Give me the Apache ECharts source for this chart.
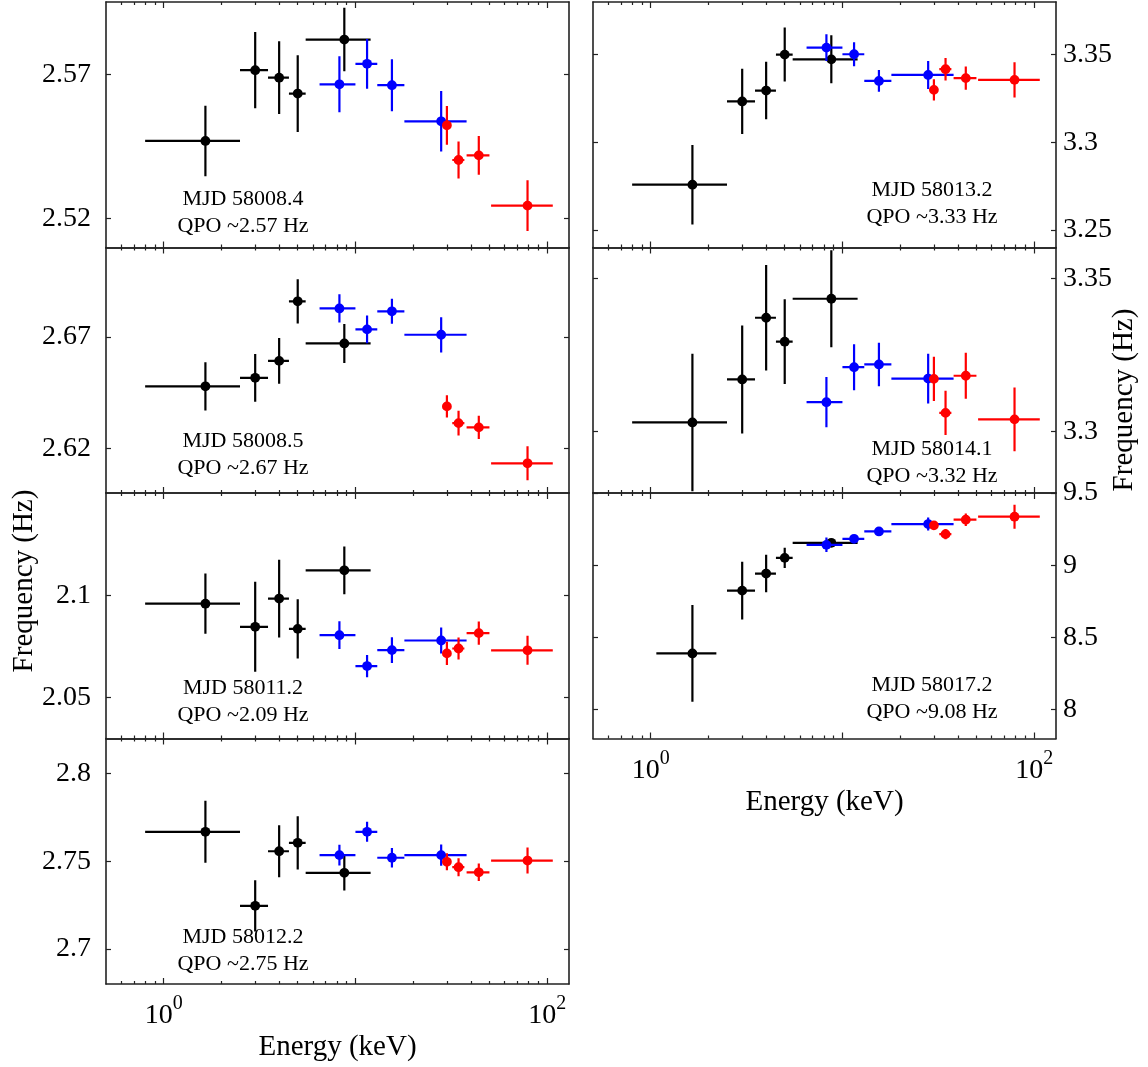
<!DOCTYPE html>
<html><head><meta charset="utf-8">
<script src="https://cdn.jsdelivr.net/npm/echarts/dist/echarts.min.js"></script>
<style>html,body{margin:0;padding:0;background:#fff}#c{width:1148px;height:1067px}</style>
</head><body><div id="c"></div>
<script>
// ---------- energy bins (keV) ----------
const blackE  = [1.65, 3.0, 4.0, 5.0, 8.75];
const blackLo = [0.8, 2.5, 3.5, 4.5, 5.5];
const blackHi = [2.5, 3.5, 4.5, 5.5, 12];
const black7Lo = [1.07, 2.5, 3.5, 4.5, 5.5];
const black7Hi = [2.2, 3.5, 4.5, 5.5, 12];
const blueE  = [8.25, 11.5, 15.5, 28];
const blueLo = [6.5, 10, 13, 18];
const blueHi = [10, 13, 18, 38];
const redE  = [30, 34.5, 44, 79];
const redLo = [28.5, 32, 38, 51];
const redHi = [31.5, 37, 50, 107];

// ---------- x tick values / labels ----------
const xMajor = [1, 10, 100];
const xMinor = [0.6, 0.7, 0.8, 0.9, 2, 3, 4, 5, 6, 7, 8, 9, 20, 30, 40, 50, 60, 70, 80, 90];
const xLabeled = [1, 100];

// ---------- MJD 58008.4 ----------
const f1Black = [2.5469, 2.5714, 2.5688, 2.5633, 2.5820];
const d1Black = [0.0122, 0.0132, 0.0126, 0.0133, 0.0110];
const f1Blue  = [2.5665, 2.5736, 2.5662, 2.5537];
const d1Blue  = [0.0097, 0.0086, 0.0090, 0.0105];
const f1Red   = [2.5523, 2.5403, 2.5419, 2.5245];
const d1Red   = [0.0067, 0.0064, 0.0067, 0.0088];
const y1Ticks = [2.52, 2.57];
// ---------- MJD 58008.5 ----------
const f2Black = [2.6478, 2.6516, 2.6592, 2.6859, 2.6670];
const d2Black = [0.0108, 0.0107, 0.0103, 0.0099, 0.0087];
const f2Blue  = [2.6827, 2.6733, 2.6814, 2.6709];
const d2Blue  = [0.0063, 0.0062, 0.0056, 0.0079];
const f2Red   = [2.6388, 2.6313, 2.6294, 2.6133];
const d2Red   = [0.0050, 0.0055, 0.0052, 0.0076];
const y2Ticks = [2.62, 2.67];
// ---------- MJD 58011.2 ----------
const f3Black = [2.0959, 2.0846, 2.0984, 2.0836, 2.1122];
const d3Black = [0.0147, 0.0220, 0.0190, 0.0145, 0.0117];
const f3Blue  = [2.0805, 2.0654, 2.0732, 2.0779];
const d3Blue  = [0.0068, 0.0054, 0.0063, 0.0064];
const f3Red   = [2.0716, 2.0740, 2.0815, 2.0731];
const d3Red   = [0.0057, 0.0054, 0.0057, 0.0071];
const y3Ticks = [2.05, 2.1];
// ---------- MJD 58012.2 ----------
const f4Black = [2.7668, 2.7246, 2.7557, 2.7605, 2.7434];
const d4Black = [0.0177, 0.0146, 0.0148, 0.0152, 0.0101];
const f4Blue  = [2.7535, 2.7668, 2.7520, 2.7535];
const d4Blue  = [0.0059, 0.0057, 0.0055, 0.0060];
const f4Red   = [2.7497, 2.7466, 2.7437, 2.7504];
const d4Red   = [0.0048, 0.0051, 0.0050, 0.0074];
const y4Ticks = [2.7, 2.75, 2.8];
// ---------- MJD 58013.2 ----------
const f5Black = [3.2758, 3.3233, 3.3295, 3.3500, 3.3473];
const d5Black = [0.0227, 0.0186, 0.0164, 0.0154, 0.0137];
const f5Blue  = [3.3540, 3.3502, 3.3350, 3.3384];
const d5Blue  = [0.0076, 0.0068, 0.0062, 0.0080];
const f5Red   = [3.3299, 3.3417, 3.3366, 3.3356];
const d5Red   = [0.0060, 0.0064, 0.0066, 0.0100];
const y5Ticks = [3.25, 3.3, 3.35];
// ---------- MJD 58014.1 ----------
const f6Black = [3.3030, 3.3170, 3.3371, 3.3293, 3.3433];
const d6Black = [0.0224, 0.0176, 0.0172, 0.0138, 0.0158];
const f6Blue  = [3.3096, 3.3210, 3.3219, 3.3173];
const d6Blue  = [0.0082, 0.0075, 0.0071, 0.0081];
const f6Red   = [3.3172, 3.3061, 3.3182, 3.3040];
const d6Red   = [0.0072, 0.0072, 0.0075, 0.0104];
const y6Ticks = [3.3, 3.35];
// ---------- MJD 58017.2 ----------
const f7Black = [8.389, 8.824, 8.942, 9.051, 9.155];
const d7Black = [0.335, 0.200, 0.130, 0.070, 0.020];
const f7Blue  = [9.141, 9.183, 9.234, 9.285];
const d7Blue  = [0.050, 0.025, 0.025, 0.045];
const f7Red   = [9.276, 9.215, 9.315, 9.336];
const d7Red   = [0.028, 0.035, 0.043, 0.083];
const y7Ticks = [8, 8.5, 9, 9.5];

const mjdLabels = ['MJD 58008.4','MJD 58008.5','MJD 58011.2','MJD 58012.2','MJD 58013.2','MJD 58014.1','MJD 58017.2'];
const qpoLabels = ['QPO ~2.57 Hz','QPO ~2.67 Hz','QPO ~2.09 Hz','QPO ~2.75 Hz','QPO ~3.33 Hz','QPO ~3.32 Hz','QPO ~9.08 Hz'];

// ---------- layout ----------
const FONT = '"Liberation Serif", "Times New Roman", serif';
const GRID_W = 463, GRID_H = 245.5, GRID_TOP = 2;
const COL_LEFT = [106, 593];
const NOTE_X = [243, 932];
const LABEL_MARGIN = [15, 7];
const FRAME = {color: '#222', width: 1.6};

function pts(E, lo, hi, F, dF) {
  return E.map((e, k) => [e, F[k], lo[k], hi[k], F[k] - dF[k], F[k] + dF[k]]);
}

const panels = [
  {col:0,row:0,yMin:2.51,yMax:2.595,yTicks:y1Ticks,noteY:197,bottom:false,
   black:pts(blackE,blackLo,blackHi,f1Black,d1Black),blue:pts(blueE,blueLo,blueHi,f1Blue,d1Blue),red:pts(redE,redLo,redHi,f1Red,d1Red)},
  {col:0,row:1,yMin:2.60,yMax:2.71,yTicks:y2Ticks,noteY:193.5,bottom:false,
   black:pts(blackE,blackLo,blackHi,f2Black,d2Black),blue:pts(blueE,blueLo,blueHi,f2Blue,d2Blue),red:pts(redE,redLo,redHi,f2Red,d2Red)},
  {col:0,row:2,yMin:2.03,yMax:2.15,yTicks:y3Ticks,noteY:195,bottom:false,
   black:pts(blackE,blackLo,blackHi,f3Black,d3Black),blue:pts(blueE,blueLo,blueHi,f3Blue,d3Blue),red:pts(redE,redLo,redHi,f3Red,d3Red)},
  {col:0,row:3,yMin:2.68,yMax:2.82,yTicks:y4Ticks,noteY:198.5,bottom:true,
   black:pts(blackE,blackLo,blackHi,f4Black,d4Black),blue:pts(blueE,blueLo,blueHi,f4Blue,d4Blue),red:pts(redE,redLo,redHi,f4Red,d4Red)},
  {col:1,row:0,yMin:3.24,yMax:3.38,yTicks:y5Ticks,noteY:188,bottom:false,
   black:pts(blackE,blackLo,blackHi,f5Black,d5Black),blue:pts(blueE,blueLo,blueHi,f5Blue,d5Blue),red:pts(redE,redLo,redHi,f5Red,d5Red)},
  {col:1,row:1,yMin:3.28,yMax:3.36,yTicks:y6Ticks,noteY:202,bottom:false,
   black:pts(blackE,blackLo,blackHi,f6Black,d6Black),blue:pts(blueE,blueLo,blueHi,f6Blue,d6Blue),red:pts(redE,redLo,redHi,f6Red,d6Red)},
  {col:1,row:2,yMin:7.8,yMax:9.5,yTicks:y7Ticks,noteY:192,bottom:true,
   black:pts(blackE,black7Lo,black7Hi,f7Black,d7Black),blue:pts(blueE,blueLo,blueHi,f7Blue,d7Blue),red:pts(redE,redLo,redHi,f7Red,d7Red)}
];

const grid = [], xAxis = [], yAxis = [], series = [], graphic = [];

function xAx(gi, pos, ticks, len, showLine, labelled) {
  const ax = {
    type: 'log', logBase: 10, gridIndex: gi, position: pos, min: 0.5, max: 130,
    axisLine: {show: showLine, onZero: false, lineStyle: FRAME},
    axisTick: {show: true, inside: true, length: len, customValues: ticks, lineStyle: {color: '#222', width: 1.2}},
    axisLabel: {show: false},
    splitLine: {show: false}, minorTick: {show: false}, minorSplitLine: {show: false}
  };
  if (labelled) {
    ax.axisLabel = {
      show: true, customValues: xLabeled, margin: 10, color: '#000',
      formatter: v => '{b|10}{s|' + Math.round(Math.log10(v)) + '}',
      rich: {
        b: {fontSize: 28, fontFamily: FONT, color: '#000', padding: [8, 0, 0, 0], verticalAlign: 'bottom'},
        s: {fontSize: 20, fontFamily: FONT, color: '#000', verticalAlign: 'top'}
      }
    };
    ax.name = 'Energy (keV)';
    ax.nameLocation = 'middle';
    ax.nameGap = 49;
    ax.nameTextStyle = {fontSize: 29, fontFamily: FONT, color: '#000'};
  }
  return ax;
}
function yAx(gi, pos, p, labelled) {
  return {
    type: 'value', gridIndex: gi, position: pos, min: p.yMin, max: p.yMax,
    axisLine: {show: true, onZero: false, lineStyle: FRAME},
    axisTick: {show: true, inside: true, length: 5, customValues: p.yTicks, lineStyle: {color: '#222', width: 1.2}},
    axisLabel: labelled ? {show: true, customValues: p.yTicks, margin: LABEL_MARGIN[p.col], fontSize: 28, fontFamily: FONT, color: '#000'} : {show: false},
    splitLine: {show: false}
  };
}
function errSeries(i, color, data) {
  return {
    type: 'custom', xAxisIndex: 4 * i, yAxisIndex: 2 * i, clip: true, data: data,
    encode: {x: [0, 2, 3], y: [1, 4, 5]},
    renderItem: function (params, api) {
      const x = api.value(0), y = api.value(1);
      const c = api.coord([x, y]);
      const l = api.coord([api.value(2), y]), r = api.coord([api.value(3), y]);
      const b = api.coord([x, api.value(4)]), t = api.coord([x, api.value(5)]);
      const st = {stroke: color, lineWidth: 2.2};
      return {type: 'group', children: [
        {type: 'line', shape: {x1: l[0], y1: c[1], x2: r[0], y2: c[1]}, style: st},
        {type: 'line', shape: {x1: c[0], y1: t[1], x2: c[0], y2: b[1]}, style: st},
        {type: 'circle', shape: {cx: c[0], cy: c[1], r: 4.9}, style: {fill: color}}
      ]};
    }
  };
}

panels.forEach((p, i) => {
  const left = COL_LEFT[p.col], top = GRID_TOP + p.row * GRID_H;
  grid.push({left: left, top: top, width: GRID_W, height: GRID_H, containLabel: false});
  xAxis.push(xAx(i, 'bottom', xMajor, 6, true, p.bottom));
  xAxis.push(xAx(i, 'top', xMajor, 6, true, false));
  xAxis.push(xAx(i, 'bottom', xMinor, 3, false, false));
  xAxis.push(xAx(i, 'top', xMinor, 3, false, false));
  yAxis.push(yAx(i, 'left', p, p.col === 0));
  yAxis.push(yAx(i, 'right', p, p.col === 1));
  series.push(errSeries(i, '#000000', p.black));
  series.push(errSeries(i, '#0000ff', p.blue));
  series.push(errSeries(i, '#ff0000', p.red));
  graphic.push({
    type: 'text', x: NOTE_X[p.col], y: top + p.noteY - 13.5,
    style: {text: mjdLabels[i] + '\n' + qpoLabels[i], align: 'center', verticalAlign: 'top',
            font: '22px ' + FONT, lineHeight: 27, fill: '#000'}
  });
});

graphic.push({type: 'text', x: 24, y: 581, rotation: Math.PI / 2,
  style: {text: 'Frequency (Hz)', align: 'center', verticalAlign: 'middle', font: '29px ' + FONT, fill: '#000'}});
graphic.push({type: 'text', x: 1124, y: 400, rotation: Math.PI / 2,
  style: {text: 'Frequency (Hz)', align: 'center', verticalAlign: 'middle', font: '29px ' + FONT, fill: '#000'}});

const chart = echarts.init(document.getElementById('c'), null, {renderer: 'canvas'});
chart.setOption({animation: false, backgroundColor: '#fff', grid, xAxis, yAxis, series, graphic});
</script></body></html>
